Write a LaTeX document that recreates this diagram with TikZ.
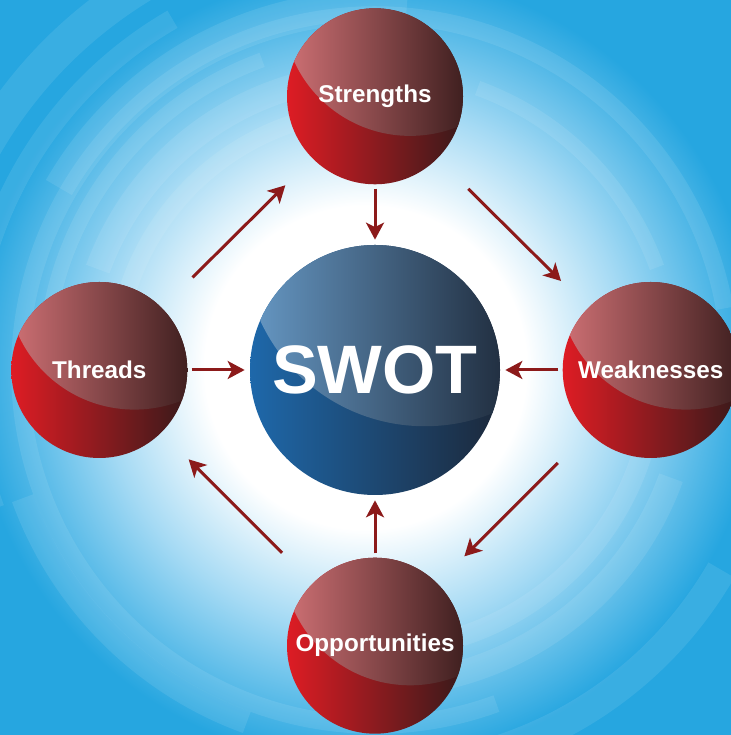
\documentclass[tikz,border=0pt]{standalone}
\usepackage{fontspec}
\setmainfont{Liberation Sans}
\usepackage{tikz}
\usetikzlibrary{calc}
\usetikzlibrary{positioning}
\usetikzlibrary{arrows.meta}

\definecolor{skyblue}{RGB}{38,166,224}
\definecolor{skylight}{RGB}{165,218,244}
\definecolor{ballred}{RGB}{222,28,36}
\definecolor{ballmid}{RGB}{150,28,30}
\definecolor{balldark}{RGB}{56,26,26}
\definecolor{redsheen}{RGB}{206,112,116}
\definecolor{redsheenmid}{RGB}{140,62,62}
\definecolor{redsheendark}{RGB}{64,32,32}
\definecolor{orbblue}{RGB}{30,104,170}
\definecolor{orbmid}{RGB}{20,74,140}
\definecolor{orbdark}{RGB}{28,40,58}
\definecolor{bluesheen}{RGB}{102,152,196}
\definecolor{bluesheenmid}{RGB}{50,100,152}
\definecolor{bluesheendark}{RGB}{34,48,66}
\definecolor{arrowred}{RGB}{140,26,26}

\pgfdeclareradialshading{glow}{\pgfpoint{0bp}{0bp}}{color(0bp)=(white); color(11bp)=(white); color(18bp)=(skylight); color(27bp)=(skyblue); color(50bp)=(skyblue)}

\tikzset{
	sheen/.style n args={4}{path picture={
		\begin{scope}
			\clip ($(path picture bounding box.center)+(.4*#1,1.0*#1)$) circle (1.45*#1);
			\shade [left color=#2, middle color=#3, right color=#4]
				(path picture bounding box.south west) rectangle (path picture bounding box.north east);
		\end{scope}}},
	ball/.style={circle, minimum size=3.52cm, inner sep=0pt,
		left color=ballred, middle color=ballmid, right color=balldark,
		text=white, font=\bfseries\fontsize{13.8}{16}\selectfont,
		sheen={1.76cm}{redsheen}{redsheenmid}{redsheendark}},
	orb/.style={circle, minimum size=5cm, inner sep=0pt,
		left color=orbblue, middle color=orbmid, right color=orbdark,
		text=white, font=\bfseries\fontsize{39}{44}\selectfont,
		sheen={2.5cm}{bluesheen}{bluesheenmid}{bluesheendark}},
	link/.style={draw=arrowred, line width=1.7pt,
		-{Stealth[length=3.4mm, width=3.6mm, inset=.9mm]},
		shorten <=.08cm, shorten >=.1cm}
}

\begin{document}
\begin{tikzpicture}
	\clip (0,0) rectangle (14.62,14.70);
	\shade [shading=glow] (0,0) rectangle (14.62,14.70);

	\coordinate (hub) at (7.5,7.3);

	% swirl in the background
	\foreach \r/\a/\b/\w in {5.2/100/175/.35, 5.9/95/160/.5, 6.6/110/190/.3, 7.3/85/150/.6,
			8.1/120/200/.4, 9.0/90/170/.7, 5.6/280/350/.4, 6.3/270/340/.5,
			7.1/290/10/.35, 8.0/265/330/.6, 6.0/20/70/.3, 7.5/200/250/.45} {
		\draw [white, opacity=.09, line width=\w cm] ($(hub)+(\a:\r)$) arc (\a:\b:\r);
	}

	\node [orb] (swot) at (hub) {SWOT};
	\node [ball, above = 1.2cm of swot]  (strengths)     {Strengths};
	\node [ball, right = 1.24cm of swot] (weaknesses)    {Weaknesses};
	\node [ball, below = 1.24cm of swot] (opportunities) {Opportunities};
	\node [ball, left  = 1.24cm of swot] (threads)       {Threads};

	\foreach \from in {strengths,weaknesses,opportunities,threads}
		\draw [link] (\from) -- (swot);

	\foreach \from/\to in {threads/strengths,strengths/weaknesses,weaknesses/opportunities,opportunities/threads}
		\draw [link, shorten <=.86cm, shorten >=.76cm] (\from) -- (\to);
\end{tikzpicture}
\end{document}
